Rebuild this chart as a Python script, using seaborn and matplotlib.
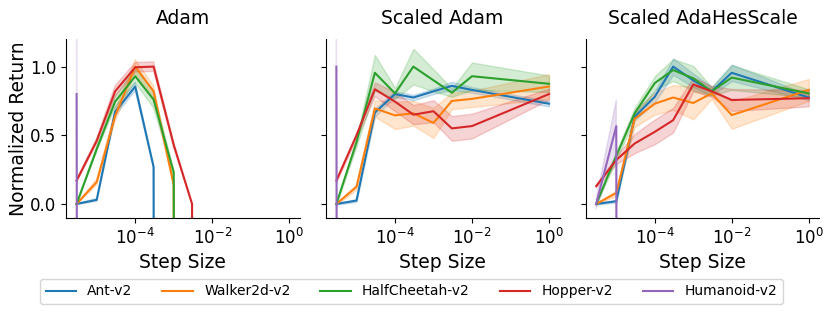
"""
Step-size sensitivity of Adam variants on MuJoCo tasks.
Normalized return vs. step size, one panel per optimizer.
"""

import numpy as np
import pandas as pd
import matplotlib
matplotlib.use("Agg")
import matplotlib.pyplot as plt
import seaborn as sns

STEP_SIZES = [3e-6, 1e-5, 3e-5, 1e-4, 3e-4, 1e-3, 3e-3, 1e-2, 1e0]
ENVS = ["Ant-v2", "Walker2d-v2", "HalfCheetah-v2", "Hopper-v2", "Humanoid-v2"]
OPTIMIZERS = ["Adam", "Scaled Adam", "Scaled AdaHesScale"]
DIV = -100.0   # diverged runs, far below the axis

# mean normalized return per env (same order as ENVS)
adam_mean = [
    [0.0, 0.03, 0.67, 0.855, 0.27, DIV, DIV, DIV, DIV],
    [0.0, 0.16, 0.64, 1.0, 0.82, 0.14, DIV, DIV, DIV],
    [0.0, 0.40, 0.745, 0.93, 0.76, 0.23, DIV, DIV, DIV],
    [0.17, 0.46, 0.82, 0.995, 1.0, 0.43, 0.0, DIV, DIV],
    [0.8, DIV, DIV, DIV, DIV, DIV, DIV, DIV, DIV],
]
adam_err = [
    [0.005, 0.01, 0.03, 0.03, 0.01, 0, 0, 0, 0],
    [0.005, 0.02, 0.04, 0.05, 0.04, 0.02, 0, 0, 0],
    [0.005, 0.02, 0.04, 0.05, 0.06, 0.02, 0, 0, 0],
    [0.01, 0.02, 0.04, 0.035, 0.035, 0.02, 0.0, 0, 0],
    [0.5, 0, 0, 0, 0, 0, 0, 0, 0],
]

sadam_mean = [
    [0.0, 0.025, 0.665, 0.80, 0.775, 0.82, 0.86, 0.83, 0.73],
    [0.0, 0.125, 0.695, 0.645, 0.66, 0.59, 0.75, 0.765, 0.855],
    [0.0, 0.45, 0.955, 0.805, 1.0, 0.90, 0.81, 0.93, 0.875],
    [0.17, 0.50, 0.835, 0.745, 0.65, 0.675, 0.55, 0.567, 0.80],
    [1.0, DIV, DIV, DIV, DIV, DIV, DIV, DIV, DIV],
]
sadam_err = [
    [0.005, 0.01, 0.03, 0.02, 0.02, 0.02, 0.03, 0.02, 0.02],
    [0.005, 0.02, 0.06, 0.10, 0.09, 0.11, 0.06, 0.06, 0.09],
    [0.005, 0.03, 0.13, 0.04, 0.13, 0.08, 0.03, 0.10, 0.06],
    [0.01, 0.02, 0.05, 0.07, 0.07, 0.08, 0.09, 0.09, 0.04],
    [0.5, 0, 0, 0, 0, 0, 0, 0, 0],
]

sahs_mean = [
    [0.0, 0.02, 0.635, 0.78, 1.0, 0.90, 0.82, 0.955, 0.775],
    [0.0, 0.08, 0.62, 0.73, 0.775, 0.735, 0.805, 0.647, 0.83],
    [0.0, 0.35, 0.66, 0.88, 0.975, 0.915, 0.82, 0.92, 0.805],
    [0.13, 0.32, 0.44, 0.525, 0.61, 0.87, 0.82, 0.757, 0.77],
    [0.0, 0.567, DIV, DIV, DIV, DIV, DIV, DIV, DIV],
]
sahs_err = [
    [0.005, 0.01, 0.03, 0.04, 0.06, 0.05, 0.03, 0.06, 0.02],
    [0.005, 0.02, 0.06, 0.08, 0.09, 0.12, 0.04, 0.10, 0.08],
    [0.005, 0.03, 0.04, 0.05, 0.08, 0.09, 0.03, 0.09, 0.03],
    [0.01, 0.03, 0.07, 0.09, 0.09, 0.05, 0.04, 0.08, 0.06],
    [0.035, 0.19, 0, 0, 0, 0, 0, 0, 0],
]

MEANS = [adam_mean, sadam_mean, sahs_mean]
ERRS = [adam_err, sadam_err, sahs_err]


def build_frame():
    # three rows per point (mean - err, mean, mean + err) so that the
    # min/max interval drawn by seaborn is the shaded band
    rows = []
    for opt, means, errs in zip(OPTIMIZERS, MEANS, ERRS):
        for env, m_row, e_row in zip(ENVS, means, errs):
            for step, m, e in zip(STEP_SIZES, m_row, e_row):
                for k in (-1, 0, 1):
                    rows.append({"optimizer": opt, "env": env,
                                 "step": step, "ret": m + k * e})
    return pd.DataFrame(rows)


def main():
    df = build_frame()
    palette = sns.color_palette("tab10", len(ENVS))

    fig, axes = plt.subplots(1, 3, figsize=(8.31, 3.13), dpi=100,
                             sharex=True, sharey=True)
    fig.subplots_adjust(left=0.0794, right=0.986, top=0.875, bottom=0.3045,
                        wspace=0.111)

    for ax, opt in zip(axes, OPTIMIZERS):
        sns.lineplot(data=df[df["optimizer"] == opt], x="step", y="ret",
                     hue="env", hue_order=ENVS, palette=palette,
                     errorbar=("pi", 100), linewidth=1.5, ax=ax)
        ax.set_xscale("log")
        ax.set_title(opt, fontsize=13.5, pad=11)
        ax.set_xlabel("Step Size", fontsize=13.5)
        ax.set_ylabel("")
        ax.tick_params(labelsize=12)
        ax.legend_.remove()
        sns.despine(ax=ax)

    axes[0].set_ylim(-0.1, 1.2)
    axes[0].set_yticks([0.0, 0.5, 1.0])
    axes[0].set_xticks([1e-4, 1e-2, 1e0])
    for ax in axes:
        ax.minorticks_off()
    axes[0].set_ylabel("Normalized Return", fontsize=13.5, labelpad=1.5)

    handles, labels = axes[0].get_legend_handles_labels()
    fig.legend(handles[:len(ENVS)], labels[:len(ENVS)], loc="center",
               bbox_to_anchor=(0.495, 0.069), ncol=5, fontsize=10,
               handlelength=2.2, columnspacing=2.15, frameon=True)

    plt.savefig("out.png", dpi=100)
    plt.close()


if __name__ == "__main__":
    main()
